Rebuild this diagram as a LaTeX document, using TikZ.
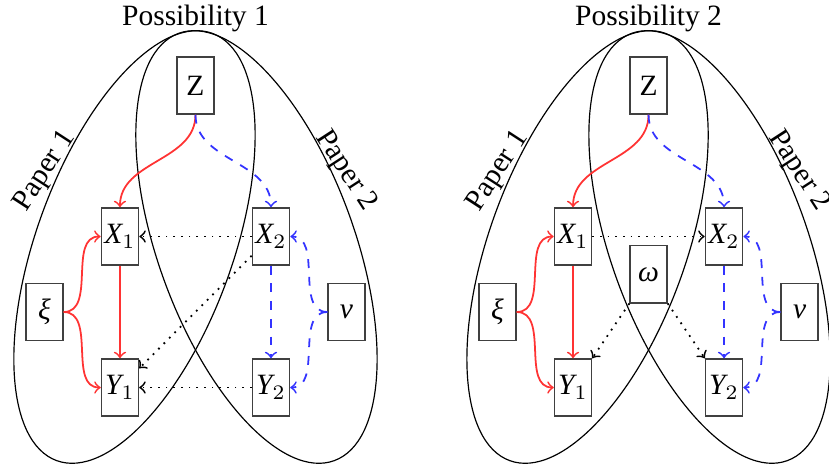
\documentclass[tikz,border=0pt]{standalone}
\usepackage{fontspec}
\setmainfont{Liberation Serif}
\usetikzlibrary{shapes.geometric,calc}
\tikzstyle{var} = [rectangle, minimum width=0.44cm, minimum height=0.68cm, inner sep=1pt, text centered, draw=black!75, line width=0.5pt]
\tikzstyle{redarrow} = [semithick,->,red!80]
\tikzstyle{bluearrow} = [semithick,->,dashed,blue!80]
\tikzstyle{dotarrow} = [semithick,->,dotted]
\tikzstyle{paper} = [thin]

\begin{document}
\begin{tikzpicture}[node distance=1.8cm]
      \useasboundingbox (-2.33,1.019) rectangle (7.551,-4.536);
      % possibility 1
      \draw[paper, shift={(-0.727,-1.925)}, rotate=-20] (0,0) ellipse (1.17cm and 2.71cm);
      \draw[paper, shift={(0.727,-1.925)}, rotate=20] (0,0) ellipse (1.17cm and 2.71cm);
      \node (ta)[anchor=base] at (0,0.72) {Possibility 1};
      \node (pa1)[rotate=57] at (-1.79,-1.02) {Paper 1};
      \node (pa2)[rotate=-57] at (1.79,-1.02) {Paper 2};
      \node (za)[var]{Z};
      \node (xa1)[var, below of=za, xshift=-0.9cm]{$\mathit{X}_1$};
      \node (xa2)[var, below of=za, xshift=0.9cm]{$\mathit{X}_2$};
      \node (ya1)[var, below of=xa1]{$\mathit{Y}_1$};
      \node (ya2)[var, below of=xa2]{$\mathit{Y}_2$};
      \node (xia)[var, below of=xa1, xshift=-0.9cm, yshift=0.9cm]{\textit{ξ}};
      \node (nua)[var, below of=xa2, xshift=0.9cm, yshift=0.9cm]{\textit{ν}};
      \draw [redarrow](za.south) to[out=-90,in=90] (xa1.north);
      \draw [bluearrow](za.south) to[out=-90,in=90] (xa2.north);
      \draw [redarrow](xa1)--(ya1);
      \draw [bluearrow](xa2)--(ya2);
      \draw [redarrow](xia.east) to[out=0,in=180] (xa1.west);
      \draw [redarrow](xia.east) to[out=0,in=180] (ya1.west);
      \draw [bluearrow](nua.west) to[out=180,in=0] (xa2.east);
      \draw [bluearrow](nua.west) to[out=180,in=0] (ya2.east);
      \draw [dotarrow](xa2)--(xa1);
      \draw [dotarrow](ya2)--(ya1);
      \draw [dotarrow](xa2)--(ya1);
      % possibility 2
      \draw[paper, shift={(4.673,-1.925)}, rotate=-20] (0,0) ellipse (1.17cm and 2.71cm);
      \draw[paper, shift={(6.127,-1.925)}, rotate=20] (0,0) ellipse (1.17cm and 2.71cm);
      \node (tb)[anchor=base] at (5.4,0.72) {Possibility 2};
      \node (pb1)[rotate=57] at (3.61,-1.02) {Paper 1};
      \node (pb2)[rotate=-57] at (7.19,-1.02) {Paper 2};
      \node (zb)[var, right of=za, xshift=3.6cm]{Z};
      \node (xb1)[var, below of=zb, xshift=-0.9cm]{$\mathit{X}_1$};
      \node (xb2)[var, below of=zb, xshift=0.9cm]{$\mathit{X}_2$};
      \node (yb1)[var, below of=xb1]{$\mathit{Y}_1$};
      \node (yb2)[var, below of=xb2]{$\mathit{Y}_2$};
      \node (xib)[var, below of=xb1, xshift=-0.9cm, yshift=0.9cm]{\textit{ξ}};
      \node (nub)[var, below of=xb2, xshift=0.9cm, yshift=0.9cm]{\textit{ν}};
      \node (omb)[var, below of=zb, yshift=-0.45cm]{\textit{ω}};
      \draw [redarrow](zb.south) to[out=-90,in=90] (xb1.north);
      \draw [bluearrow](zb.south) to[out=-90,in=90] (xb2.north);
      \draw [redarrow](xb1)--(yb1);
      \draw [bluearrow](xb2)--(yb2);
      \draw [redarrow](xib.east) to[out=0,in=180] (xb1.west);
      \draw [redarrow](xib.east) to[out=0,in=180] (yb1.west);
      \draw [bluearrow](nub.west) to[out=180,in=0] (xb2.east);
      \draw [bluearrow](nub.west) to[out=180,in=0] (yb2.east);
      \draw [dotarrow](xb1)--(xb2);
      \draw [dotarrow](omb.south west)--(yb1.north east);
      \draw [dotarrow](omb.south east)--(yb2.north west);
\end{tikzpicture}
\end{document}
